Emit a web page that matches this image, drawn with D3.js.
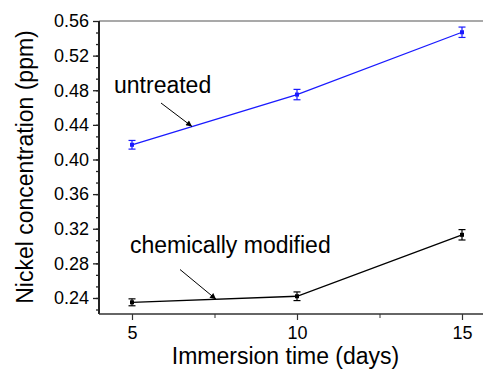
<!DOCTYPE html>
<html><head><meta charset="utf-8">
<script src="https://cdn.jsdelivr.net/npm/d3@7"></script>
<style>body{margin:0;background:#fff}svg{display:block}</style>
</head><body><svg id="c" width="483" height="369"></svg>
<script>
const days = [5, 10, 15];
const untreated = [0.417, 0.475, 0.547];
const untreatedErr = [0.005, 0.006, 0.006];
const modified = [0.235, 0.242, 0.313];
const modifiedErr = [0.004, 0.005, 0.006];
const yTicks = [0.24, 0.28, 0.32, 0.36, 0.40, 0.44, 0.48, 0.52, 0.56];
const xTicks = [5, 10, 15];
const labelUntreated = "untreated";
const labelModified = "chemically modified";

const svg = d3.select("#c");
const font = "'Liberation Sans', Arial, sans-serif";
const L = 99, T = 21, B = 314;
const x = d3.scaleLinear().domain([4, 16]).range([L, L + 12 * 33]);
const y = d3.scaleLinear().domain([0.2215, 0.56]).range([B, T]);

// frame top line
svg.append("line").attr("x1", L).attr("x2", 483).attr("y1", T).attr("y2", T)
  .attr("stroke", "#555").attr("stroke-width", 1.2);

// minor ticks y
const yMinor = [];
for (let v = 0.2267; v < 0.56; v += 0.04 / 3) yMinor.push(v);
const gyMin = svg.append("g").attr("transform", `translate(${L},0)`)
  .call(d3.axisLeft(y).tickValues(yMinor).tickSize(3).tickFormat(""));
gyMin.select(".domain").remove();
const gy = svg.append("g").attr("transform", `translate(${L},0)`)
  .call(d3.axisLeft(y).tickValues(yTicks).tickSize(6).tickPadding(4).tickFormat(d3.format(".2f")));
gy.selectAll("text").attr("font-family", font).attr("font-size", 18).attr("fill", "#000");
gy.select(".domain").attr("d", `M0,${B}V${T}`).attr("stroke-width", 2).attr("stroke", "#222");
svg.selectAll("g line").attr("stroke", "#222").attr("stroke-width", 1.3);

// x axis
const gxMin = svg.append("g").attr("transform", `translate(0,${B})`)
  .call(d3.axisBottom(x).tickValues([7.5, 12.5]).tickSize(4).tickFormat(""));
gxMin.select(".domain").remove();
const gx = svg.append("g").attr("transform", `translate(0,${B})`)
  .call(d3.axisBottom(x).tickValues(xTicks).tickSize(6).tickPadding(6).tickFormat(d3.format("d")));
gx.selectAll("text").attr("font-family", font).attr("font-size", 18).attr("fill", "#000");
gx.select(".domain").attr("d", `M${L},0H483`).attr("stroke-width", 1.5).attr("stroke", "#333");
gxMin.selectAll("line").attr("stroke", "#333");
gx.selectAll("line").attr("stroke", "#333").attr("stroke-width", 1.2);

// axis titles
svg.append("text").attr("x", 285.5).attr("y", 364).attr("text-anchor", "middle")
  .attr("font-family", font).attr("font-size", 23).text("Immersion time (days)");
svg.append("text").attr("transform", "translate(33,167) rotate(-90)").attr("text-anchor", "middle")
  .attr("font-family", font).attr("font-size", 23).text("Nickel concentration (ppm)");

// series
function drawSeries(vals, errs, color) {
  const pts = days.map((d, i) => ({ d, v: vals[i], e: errs[i] }));
  svg.append("path").datum(pts)
    .attr("d", d3.line().x(p => x(p.d)).y(p => y(p.v)))
    .attr("fill", "none").attr("stroke", color).attr("stroke-width", 1.3);
  const g = svg.append("g").attr("stroke", color).attr("stroke-width", 1.2);
  pts.forEach(p => {
    g.append("line").attr("x1", x(p.d)).attr("x2", x(p.d)).attr("y1", y(p.v + p.e)).attr("y2", y(p.v - p.e));
    g.append("line").attr("x1", x(p.d) - 3.5).attr("x2", x(p.d) + 3.5).attr("y1", y(p.v + p.e)).attr("y2", y(p.v + p.e));
    g.append("line").attr("x1", x(p.d) - 3.5).attr("x2", x(p.d) + 3.5).attr("y1", y(p.v - p.e)).attr("y2", y(p.v - p.e));
    svg.append("rect").attr("x", x(p.d) - 2).attr("y", y(p.v) - 2).attr("width", 4).attr("height", 4).attr("fill", color);
  });
}
drawSeries(untreated, untreatedErr, "#1a1aff");
drawSeries(modified, modifiedErr, "#000");

// arrows
svg.append("defs").append("marker").attr("id", "ah").attr("viewBox", "0 0 10 10")
  .attr("refX", 10).attr("refY", 5).attr("markerWidth", 8).attr("markerHeight", 6)
  .attr("orient", "auto").attr("markerUnits", "userSpaceOnUse")
  .append("path").attr("d", "M0,0L10,5L0,10z").attr("fill", "#000");

function annot(text, tx, ty) {
  svg.append("text").attr("x", tx).attr("y", ty).attr("font-family", font).attr("font-size", 23).text(text);
}
annot(labelUntreated, 114, 92.7);
annot(labelModified, 130, 253.3);

// arrow targets computed on the series lines
function onLine(vals, dx) {
  const i = dx < days[1] ? 0 : 1;
  const t = (dx - days[i]) / (days[i + 1] - days[i]);
  return y(vals[i] + t * (vals[i + 1] - vals[i]));
}
const uxEnd = x.invert(192), mxEnd = x.invert(216);
svg.append("line").attr("x1", 161).attr("y1", 103).attr("x2", x(uxEnd)).attr("y2", onLine(untreated, uxEnd))
  .attr("stroke", "#000").attr("stroke-width", 1).attr("marker-end", "url(#ah)");
svg.append("line").attr("x1", 180).attr("y1", 269.5).attr("x2", x(mxEnd)).attr("y2", onLine(modified, mxEnd))
  .attr("stroke", "#000").attr("stroke-width", 1).attr("marker-end", "url(#ah)");
</script></body></html>
